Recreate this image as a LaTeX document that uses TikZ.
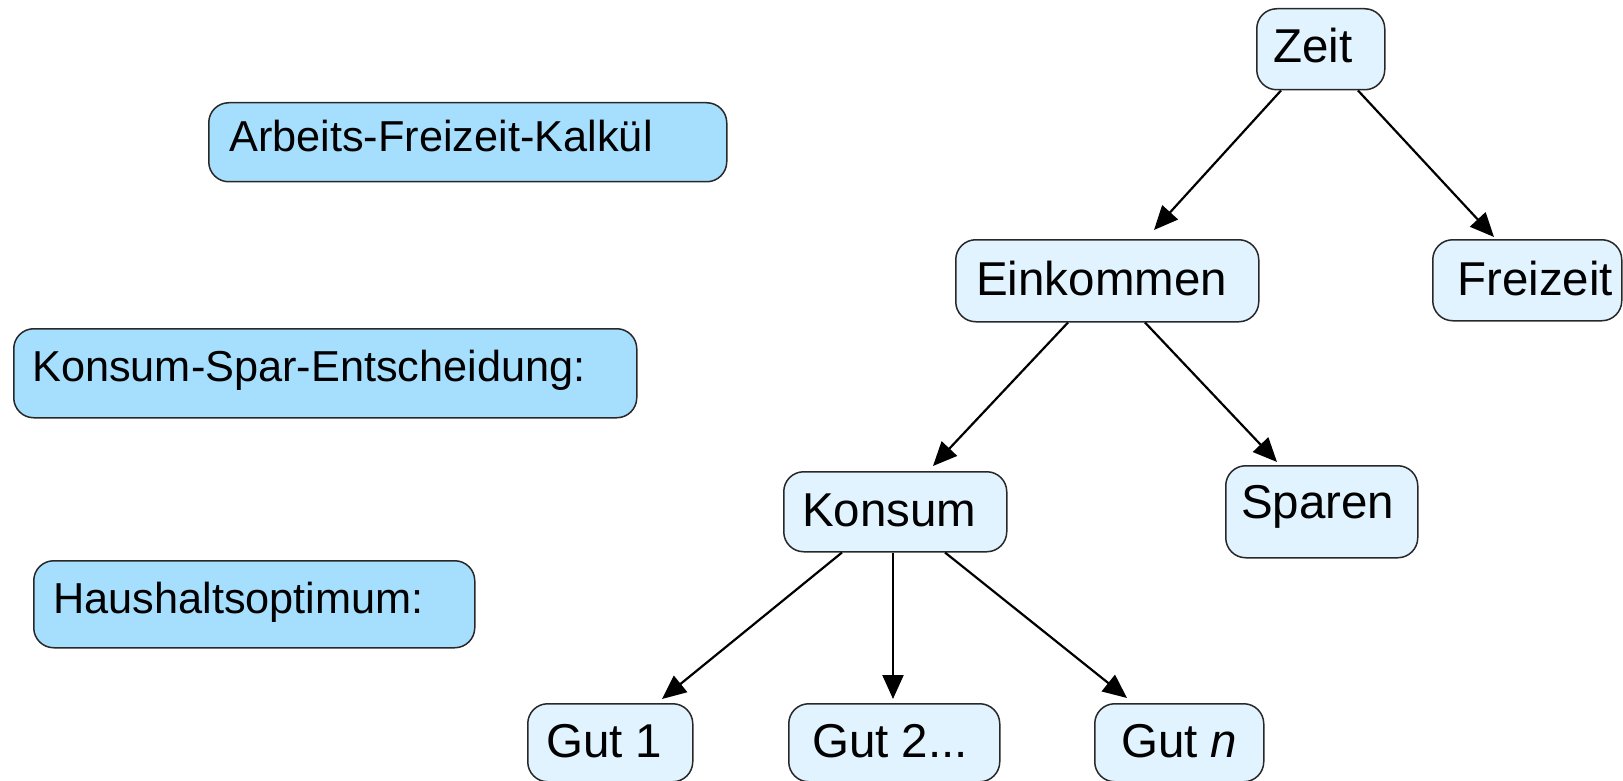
\documentclass[tikz,border=0pt]{standalone}
\usepackage{fontspec}
\setmainfont{Liberation Sans}
\usetikzlibrary{arrows.meta,calc}
\definecolor{leftfill}{RGB}{166,222,254}
\definecolor{rightfill}{RGB}{224,243,254}
\definecolor{boxline}{RGB}{40,40,40}
\newcommand\fsR{\fontsize{47.5}{56}\selectfont}
\newcommand\fsL{\fontsize{43.3}{52}\selectfont}
\tikzset{
  basebox/.style={draw=boxline, line width=1.5pt, rounded corners=20pt, inner sep=0pt, anchor=north west},
  leftbox/.style={basebox, fill=leftfill},
  rightbox/.style={basebox, fill=rightfill},
  rtext/.style={anchor=base west, inner sep=0pt, font=\fsR},
  ltext/.style={anchor=base west, inner sep=0pt, font=\fsL},
  arr/.style={draw=black, line width=2.2pt, -{Triangle[length=24pt,width=21pt]}}
}
\begin{document}
\begin{tikzpicture}[x=1pt,y=-1pt]
\useasboundingbox (0,0) rectangle (1623,781);
% boxes
\node[rightbox, minimum width=128pt, minimum height=81pt] (zeit) at (1256,8) {};
\node[leftbox,  minimum width=518pt, minimum height=79pt] (arb) at (208,102) {};
\node[rightbox, minimum width=303pt, minimum height=82pt] (eink) at (955,239) {};
\node[rightbox, minimum width=189pt, minimum height=81pt] (frei) at (1432,239) {};
\node[leftbox,  minimum width=623pt, minimum height=89pt] (ksp) at (13,328) {};
\node[rightbox, minimum width=223pt, minimum height=80pt] (konsum) at (783,471) {};
\node[rightbox, minimum width=192pt, minimum height=92pt] (sparen) at (1225,465) {};
\node[leftbox,  minimum width=441pt, minimum height=87pt] (haus) at (33,560) {};
\node[rightbox, minimum width=165pt, minimum height=78pt] (gut1) at (527,703) {};
\node[rightbox, minimum width=211pt, minimum height=78pt] (gut2) at (788,703) {};
\node[rightbox, minimum width=169pt, minimum height=78pt] (gutn) at (1094,703) {};
% texts
\node[rtext] (zeitT) at (1273,63) {Zeit};
\node[ltext] (arbT) at (229,152) {Arbeits-Freizeit-Kalkül};
\node[rtext] (einkT) at (976,295) {Einkommen};
\node[rtext] (freiT) at (1457,295) {Freizeit};
\node[ltext] (kspT) at (32,381) {Konsum-Spar-Entscheidung:};
\node[rtext] (konsumT) at (802,526) {Konsum};
\node[rtext] (sparenT) at (1241,518) {Sparen};
\node[ltext] (hausT) at (53,613) {Haushaltsoptimum:};
\node[rtext] (gut1T) at (546,757) {Gut 1};
\node[rtext] (gut2T) at (812,757) {Gut 2...};
\node[rtext] (gutnT) at (1121,757) {Gut \textit{n}};
% connectors
\draw[arr] ([xshift=25pt]zeit.south west) -- ([xshift=199pt,yshift=9pt]eink.north west);
\draw[arr] ([xshift=102pt]zeit.south west) -- ([xshift=62pt,yshift=2pt]frei.north west);
\draw[arr] ([xshift=113pt]eink.south west) -- ([xshift=150pt,yshift=5pt]konsum.north west);
\draw[arr] ([xshift=190pt]eink.south west) -- ([xshift=52pt,yshift=3pt]sparen.north west);
\draw[arr] ([xshift=59pt]konsum.south west) -- ([xshift=135pt,yshift=4pt]gut1.north west);
\draw[arr] ([xshift=110pt]konsum.south west) -- ([xshift=105pt,yshift=4pt]gut2.north west);
\draw[arr] ([xshift=162pt]konsum.south west) -- ([xshift=33pt,yshift=5pt]gutn.north west);
\end{tikzpicture}
\end{document}
